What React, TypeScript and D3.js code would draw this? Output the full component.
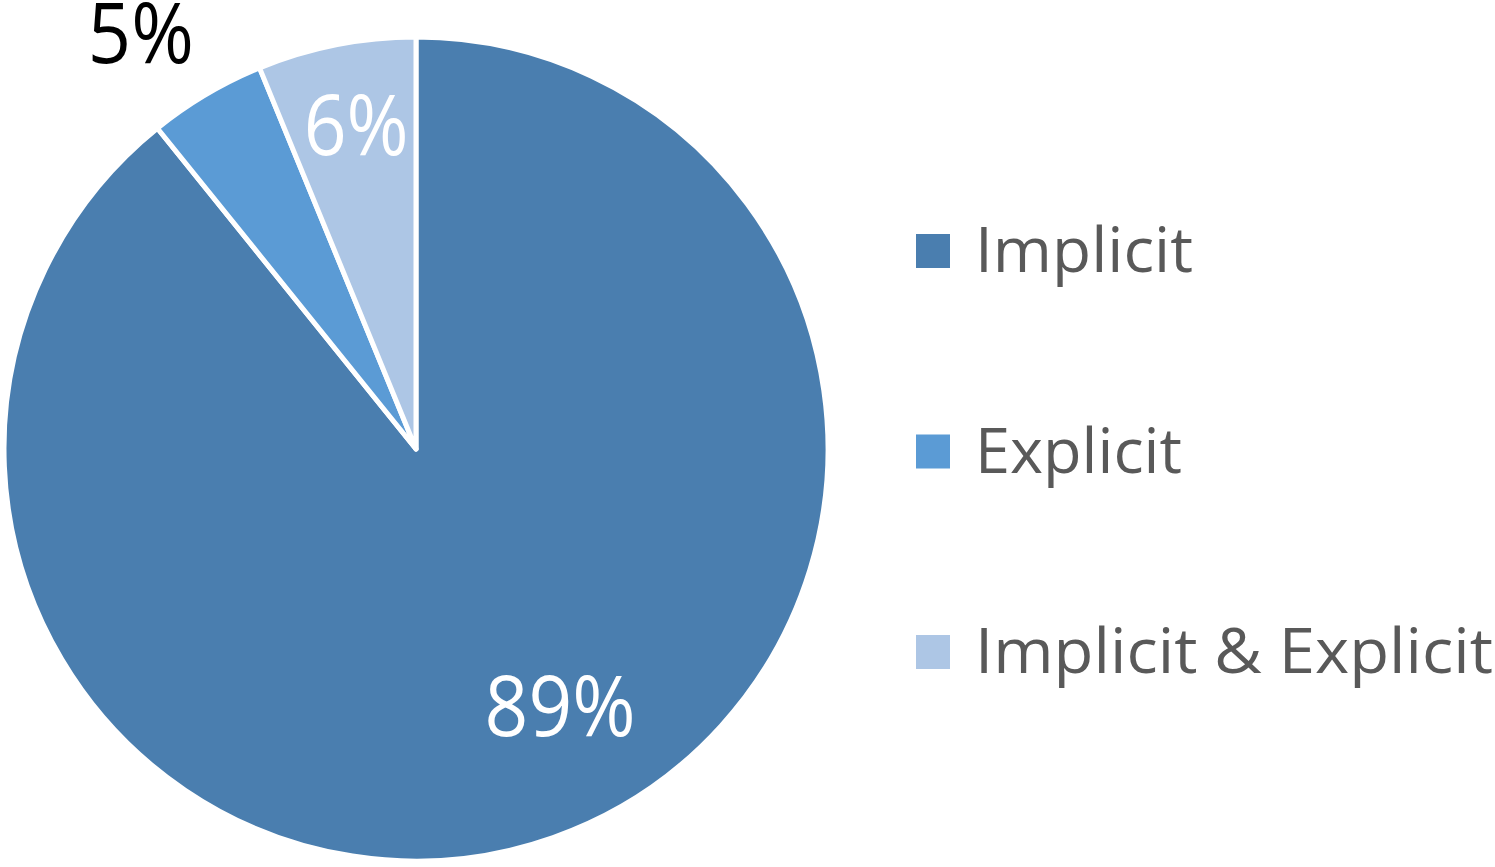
import React, { useEffect, useRef } from "react";
import * as d3 from "d3";

const categories = ["Implicit", "Explicit", "Implicit & Explicit"];
const values = [89.2, 4.6, 6.2];
const labels = ["89%", "5%", "6%"];
const colors = ["#4a7eaf", "#5b9bd5", "#adc6e5"];
const labelColors = ["#ffffff", "#000000", "#ffffff"];

const App = () => {
  const svgRef = useRef<SVGSVGElement>(null);

  useEffect(() => {
    const width = 1495;
    const height = 867;
    const cx = 416;
    const cy = 449;
    const radius = 412;

    const svg = d3.select(svgRef.current);
    svg.selectAll("*").remove();

    const data = categories.map((c, i) => ({ name: c, value: values[i], i }));

    const pie = d3.pie<any>().value(d => d.value).sort(null);
    const arcs = pie(data);
    const arc = d3.arc<any>().innerRadius(0).outerRadius(radius);

    const g = svg.append("g").attr("transform", `translate(${cx},${cy})`);

    g.selectAll("path")
      .data(arcs)
      .enter()
      .append("path")
      .attr("d", arc)
      .attr("fill", d => colors[d.data.i])
      .attr("stroke", "#ffffff")
      .attr("stroke-width", 5)
      .attr("stroke-linejoin", "round");

    // label placement: radius factor and angle tweak (degrees) per slice
    const labelRadius = [0.716, 1.21, 0.8];
    const labelShift = [-9.8, -2.9, 0.7];
    const labelWidth = [151, 106, 105];

    g.selectAll("text.lbl")
      .data(arcs)
      .enter()
      .append("text")
      .attr("class", "lbl")
      .each(function (d) {
        const i = d.data.i;
        const a = (d.startAngle + d.endAngle) / 2 + (labelShift[i] * Math.PI) / 180;
        const r = radius * labelRadius[i];
        const x = Math.sin(a) * r;
        const y = -Math.cos(a) * r;
        d3.select(this)
          .attr("x", x - labelWidth[i] / 2)
          .attr("y", y + 30)
          .attr("textLength", labelWidth[i])
          .attr("lengthAdjust", "spacingAndGlyphs")
          .attr("fill", labelColors[i])
          .attr("font-size", 84)
          .attr("font-family", "'Open Sans', sans-serif")
          .text(labels[i]);
      });

    // legend
    const legendY = d3.scalePoint<string>().domain(categories).range([251, 652]);
    const legendWidths = [218, 207, 518];
    const legend = svg.append("g");
    categories.forEach((c, i) => {
      const y = legendY(c) as number;
      legend.append("rect")
        .attr("x", 916).attr("y", y - 17)
        .attr("width", 34).attr("height", 34)
        .attr("fill", colors[i]);
      legend.append("text")
        .attr("x", 975).attr("y", y + 21)
        .attr("font-size", 62)
        .attr("font-family", "'Open Sans', sans-serif")
        .attr("fill", "#595959")
        .attr("textLength", legendWidths[i])
        .attr("lengthAdjust", "spacingAndGlyphs")
        .text(c);
    });

    svg.attr("width", width).attr("height", height);
  }, []);

  return (
    <svg
      ref={svgRef}
      width={1495}
      height={867}
      style={{ position: "absolute", left: 0, top: 0, background: "#ffffff", display: "block" }}
    ></svg>
  );
};

export default App;
